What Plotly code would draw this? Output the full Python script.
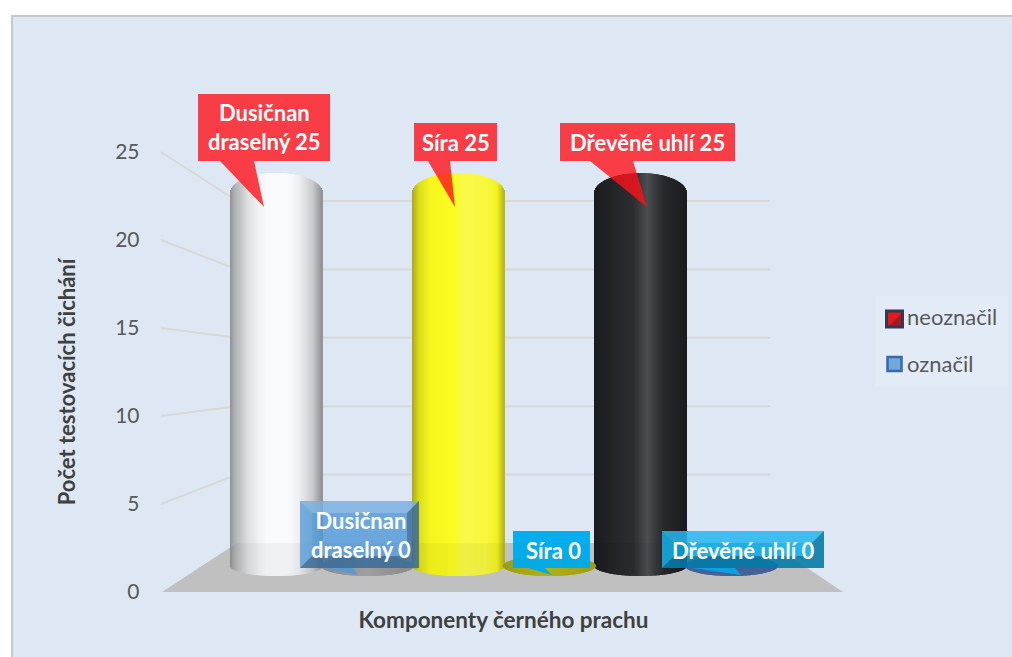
import math
import plotly.graph_objects as go

# ---- data ----
categories = ["Dusičnan draselný", "Síra", "Dřevěné uhlí"]
label_names = ["Dusičnan<br>draselný", "Síra", "Dřevěné uhlí"]
neoznacil = [25, 25, 25]
oznacil = [0, 0, 0]
y_ticks = [0, 5, 10, 15, 20, 25]

# ---- layout constants (pixels of the 1012x657 page) ----
W, H = 1012, 657
FRONT0, FRONT25 = 592, 152
BACK0, BACK25 = 543, 201
BAR0, BAR25 = 566, 193
GROUP0, GROUP_STEP = 322, 182
SERIES_OFFSET = 45.5
HALF_WIDTH = 46
WALL_L, WALL_X0, WALL_X1 = 161, 237, 770


def px(x):
    return x / W


def py(y):
    return 1 - y / H


def poly(points, fill, line=None, width=0, layer="above"):
    d = "M " + " L ".join(f"{px(a):.5f},{py(b):.5f}" for a, b in points) + " Z"
    return dict(type="path", xref="paper", yref="paper", path=d, fillcolor=fill, layer=layer,
                line=dict(color=line or "rgba(0,0,0,0)", width=width))


def seg(a, b, c, d, color, width=2):
    return dict(type="line", xref="paper", yref="paper", x0=px(a), y0=py(b), x1=px(c), y1=py(d),
                line=dict(color=color, width=width), layer="below")


def hexrgb(h):
    return tuple(int(h[i:i + 2], 16) for i in (1, 3, 5))


def ramp(stops, t):
    for (t0, c0), (t1, c1) in zip(stops, stops[1:]):
        if t <= t1:
            f = (t - t0) / (t1 - t0)
            a, b = hexrgb(c0), hexrgb(c1)
            return "rgb(%d,%d,%d)" % tuple(round(a[i] + (b[i] - a[i]) * f) for i in range(3))
    return stops[-1][1]


WHITE = [(-1, "#8e9092"), (-.9, "#b0b1b3"), (-.6, "#dfe0e1"), (-.35, "#f2f3f5"), (-.2, "#f8fafc"),
         (.3, "#f8fafc"), (.5, "#eeeff0"), (.8, "#c8c9ca"), (1, "#8e9092")]
YELLOW = [(-1, "#a8a818"), (-.85, "#dcdc1c"), (-.6, "#f6f61e"), (-.1, "#fbfb20"), (.1, "#f9f948"),
          (.6, "#f8f840"), (.85, "#f2f220"), (1, "#b4b418")]
BLACK = [(-1, "#1a1b1d"), (-.5, "#25272a"), (-.15, "#2a2c2e"), (.02, "#3c3e41"), (.16, "#4c4f52"), (.34, "#36383b"),
         (.55, "#25272a"), (1, "#1a1b1d")]
DISC1 = [(-1, "#8f8f8f"), (0, "#a6a6a6"), (1, "#8f8f8f")]
DISC2 = [(-1, "#a3a315"), (0, "#b8b81a"), (1, "#a3a315")]
DISC3 = [(-1, "#2f4fb0"), (-.9, "#46659f"), (.9, "#46659f"), (1, "#2f4fb0")]

unit = (BAR0 - BAR25) / 25  # pixels per value on the bar axis


def cylinder_trace(values, offset, ramps, name):
    xs, bases, heights, colors = [], [], [], []
    for i, v in enumerate(values):
        top_semi = (10 + 10 * v / 25) / unit
        bot_semi = 10 / unit
        for k in range(-HALF_WIDTH, HALF_WIDTH):
            t = (k + .5) / HALF_WIDTH
            s = math.sqrt(1 - t * t)
            xs.append(i + (offset + k + .5) / GROUP_STEP)
            bases.append(-bot_semi * s)
            heights.append(v + top_semi * s + bot_semi * s)
            colors.append(ramp(ramps[i], t))
    return go.Bar(x=xs, y=heights, base=bases, width=1.0 / GROUP_STEP, yaxis="y2", name=name,
                  showlegend=False, hoverinfo="skip", marker=dict(color=colors, line=dict(width=0)))


fig = go.Figure()
fig.add_trace(cylinder_trace(neoznacil, -SERIES_OFFSET, [WHITE, YELLOW, BLACK], "neoznačil"))
fig.add_trace(cylinder_trace(oznacil, SERIES_OFFSET, [DISC1, DISC2, DISC3], "označil"))

# legend entries (swatches are drawn as shapes further down)
for nm, grp in (("neoznačil", "a"), ("označil", "b")):
    fig.add_trace(go.Scatter(x=[None], y=[None], mode="markers", name=nm, legendgroup=grp,
                             marker=dict(symbol="square", size=2, color="rgba(0,0,0,0)")))

shapes = []
# chart panel
shapes.append(dict(type="rect", xref="paper", yref="paper", x0=px(12), y0=py(16), x1=px(1030), y1=py(680),
                   fillcolor="#DDE8F4", line=dict(color="#c8c8c8", width=2), layer="below"))
# legend panel and swatches
shapes.append(dict(type="rect", xref="paper", yref="paper", x0=px(875), y0=py(296), x1=px(1008), y1=py(386),
                   fillcolor="#E3ECF6", line=dict(width=0), layer="below"))
shapes.append(dict(type="rect", xref="paper", yref="paper", x0=px(886.5), y0=py(311), x1=px(902.5), y1=py(327),
                   fillcolor="#e01a1f", line=dict(color="#2f3a55", width=3), layer="below"))
shapes.append(poly([(902, 313), (902, 326), (889, 326)], "rgba(110,30,40,0.55)", layer="below"))
shapes.append(dict(type="rect", xref="paper", yref="paper", x0=px(887.5), y0=py(357), x1=px(901.5), y1=py(371),
                   fillcolor="#6fa8dc", line=dict(color="#3a68a8", width=2.5), layer="below"))
# floor
shapes.append(poly([(162, FRONT0), (843, FRONT0), (WALL_X1, BACK0), (WALL_X0, BACK0)], "#c8c8c8", layer="below"))
# walls
for v in y_ticks[1:]:
    yf = FRONT0 + (FRONT25 - FRONT0) * v / 25
    yb = BACK0 + (BACK25 - BACK0) * v / 25
    shapes.append(seg(WALL_L, yf, WALL_X0, yb, "#d8d8d6"))
    shapes.append(seg(WALL_X0, yb, WALL_X1, yb, "#d8d8d6"))
# floor tint over the foot of the cylinders
shapes.append(poly([(162, FRONT0), (843, FRONT0), (WALL_X1, BACK0), (WALL_X0, BACK0)], "rgba(0,0,0,0.04)"))

RED = "rgba(255,18,26,0.8)"
STEEL = "rgba(82,152,216,0.82)"
CYAN = "rgba(0,170,235,0.97)"
CYAN2 = "rgba(5,170,235,0.85)"


def callout(x0, y0, x1, y1, tail, fill):
    a, b, tip = tail
    return poly([(x0, y0), (x1, y0), (x1, y1), (b, y1), tip, (a, y1), (x0, y1)], fill)


def bevel(x0, y0, x1, y1, ins, top_alpha):
    return [
        poly([(x0, y0), (x1, y0), (x1 - ins, y0 + ins), (x0 + ins, y0 + ins)], f"rgba(255,255,255,{top_alpha})"),
        poly([(x0, y1), (x1, y1), (x1 - ins, y1 - ins), (x0 + ins, y1 - ins)], "rgba(0,0,0,0.25)"),
        poly([(x0, y0), (x0 + ins, y0 + ins), (x0 + ins, y1 - ins), (x0, y1)], "rgba(255,255,255,0.06)"),
        poly([(x1, y0), (x1 - ins, y0 + ins), (x1 - ins, y1 - ins), (x1, y1)], "rgba(0,0,0,0.25)"),
    ]


shapes.append(callout(198, 94, 330, 161, (220, 254, (264, 207)), RED))
shapes.append(callout(414, 123, 497, 161, (428, 450, (455, 207)), RED))
shapes.append(callout(560, 123, 735, 161, (590, 633, (647, 207)), RED))
shapes.append(callout(300, 501, 419, 568, (325, 353, (358, 575)), STEEL))
shapes += bevel(300, 501, 419, 568, 12, 0.2)
shapes.append(callout(513, 531, 590, 568, (528, 545, (552, 575)), CYAN))
shapes.append(callout(662, 531, 824, 568, (692, 735, (741, 575)), CYAN2))
shapes += bevel(662, 531, 824, 568, 12, 0.12)

label_boxes = [(264, 127.5), (456, 142), (647.5, 142)]
zero_boxes = [(361, 535), (553, 550), (743, 550)]
annotations = []
for name, v, (ax, ay) in list(zip(label_names, neoznacil, label_boxes)) + list(zip(label_names, oznacil, zero_boxes)):
    annotations.append(dict(text=f"{name} {v}", xref="paper", yref="paper", x=px(ax), y=py(ay), showarrow=False,
                            xanchor="center", yanchor="middle",
                            font=dict(family="Lato", size=22, color="white", weight="bold"), align="center"))

TOP_Y, BOTTOM_Y = FRONT25, 612
front_unit = (FRONT0 - FRONT25) / 25
X_RIGHT = 1007

fig.update_layout(
    width=W, height=H, autosize=False, margin=dict(l=0, r=0, t=0, b=0, autoexpand=False),
    paper_bgcolor="white", plot_bgcolor="rgba(0,0,0,0)", barmode="overlay",
    font=dict(family="Lato", color="#595959"),
    xaxis=dict(domain=[0, X_RIGHT / W], range=[-GROUP0 / GROUP_STEP, (X_RIGHT - GROUP0) / GROUP_STEP],
               showgrid=False, zeroline=False, showticklabels=False, ticks="", anchor="y",
               title=dict(text="Komponenty černého prachu", standoff=0,
                          font=dict(family="Lato", size=22.5, color="#404040", weight="bold"))),
    yaxis=dict(domain=[py(BOTTOM_Y), py(TOP_Y)], range=[-(BOTTOM_Y - FRONT0) / front_unit, 25],
               tickvals=y_ticks, showgrid=False, zeroline=False, anchor="free", position=px(139.5), side="left",
               tickfont=dict(family="Lato", size=21, color="#595959"),
               title=dict(text="Počet testovacích čichání", standoff=32,
                          font=dict(family="Lato", size=22, color="#404040", weight="bold"))),
    yaxis2=dict(domain=[0, 1], range=[(BAR0 - H) / unit, BAR0 / unit], visible=False, anchor="x"),
    legend=dict(x=px(867), y=py(296), xanchor="left", yanchor="top", bgcolor="rgba(0,0,0,0)", tracegroupgap=15,
                font=dict(family="Lato", size=22, color="#595959"), itemwidth=30, itemclick=False),
    shapes=shapes, annotations=annotations,
)

fig.write_html("out.html", config={"displayModeBar": False}, post_script="document.body.style.margin='0';")
